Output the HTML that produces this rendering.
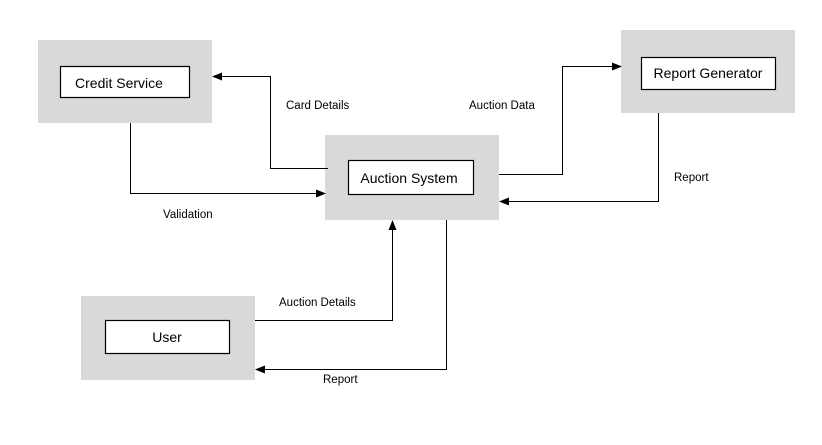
<!DOCTYPE html>
<html><head><meta charset="utf-8"><style>
html,body{margin:0;padding:0;background:#fff;width:822px;height:445px;overflow:hidden}
text{font-family:"Liberation Sans",sans-serif;fill:#000}
</style></head><body>
<svg width="822" height="445" xmlns="http://www.w3.org/2000/svg">
<defs><marker id="a" markerWidth="10" markerHeight="8" refX="9" refY="4" orient="auto" markerUnits="userSpaceOnUse"><path d="M0,0 L10,4 L0,8 z" fill="#000"/></marker></defs>
<g fill="#d9d9d9">
<rect x="38" y="40" width="174" height="83"/>
<rect x="325" y="135" width="174" height="85"/>
<rect x="621" y="30" width="174" height="83"/>
<rect x="81" y="296" width="174" height="84"/>
</g>
<g fill="#fff" stroke="#000" stroke-width="1.2">
<rect x="60.5" y="66.5" width="129" height="31"/>
<rect x="348.5" y="160.5" width="125" height="34"/>
<rect x="641.5" y="57.5" width="134" height="32"/>
<rect x="105.5" y="320.5" width="124" height="33"/>
</g>
<g font-size="14" text-anchor="middle">
<text x="119" y="88">Credit Service</text>
<text x="409" y="183">Auction System</text>
<text x="708" y="78">Report Generator</text>
<text x="167" y="342">User</text>
</g>
<g fill="none" stroke="#000" stroke-width="1" marker-end="url(#a)">
<path d="M328,168.5 H270.5 V76.5 H213"/>
<path d="M130.5,123 V193.5 H325"/>
<path d="M499,174.5 H562.5 V66.5 H621"/>
<path d="M658.5,113 V201.5 H500"/>
<path d="M255,320.5 H392.5 V221"/>
<path d="M446.5,220 V369.5 H256"/>
</g>
<g font-size="11.5">
<text x="286" y="109">Card Details</text>
<text x="469" y="109">Auction Data</text>
<text x="674" y="181">Report</text>
<text x="163" y="218">Validation</text>
<text x="279" y="306">Auction Details</text>
<text x="323" y="383">Report</text>
</g>
</svg>
</body></html>
